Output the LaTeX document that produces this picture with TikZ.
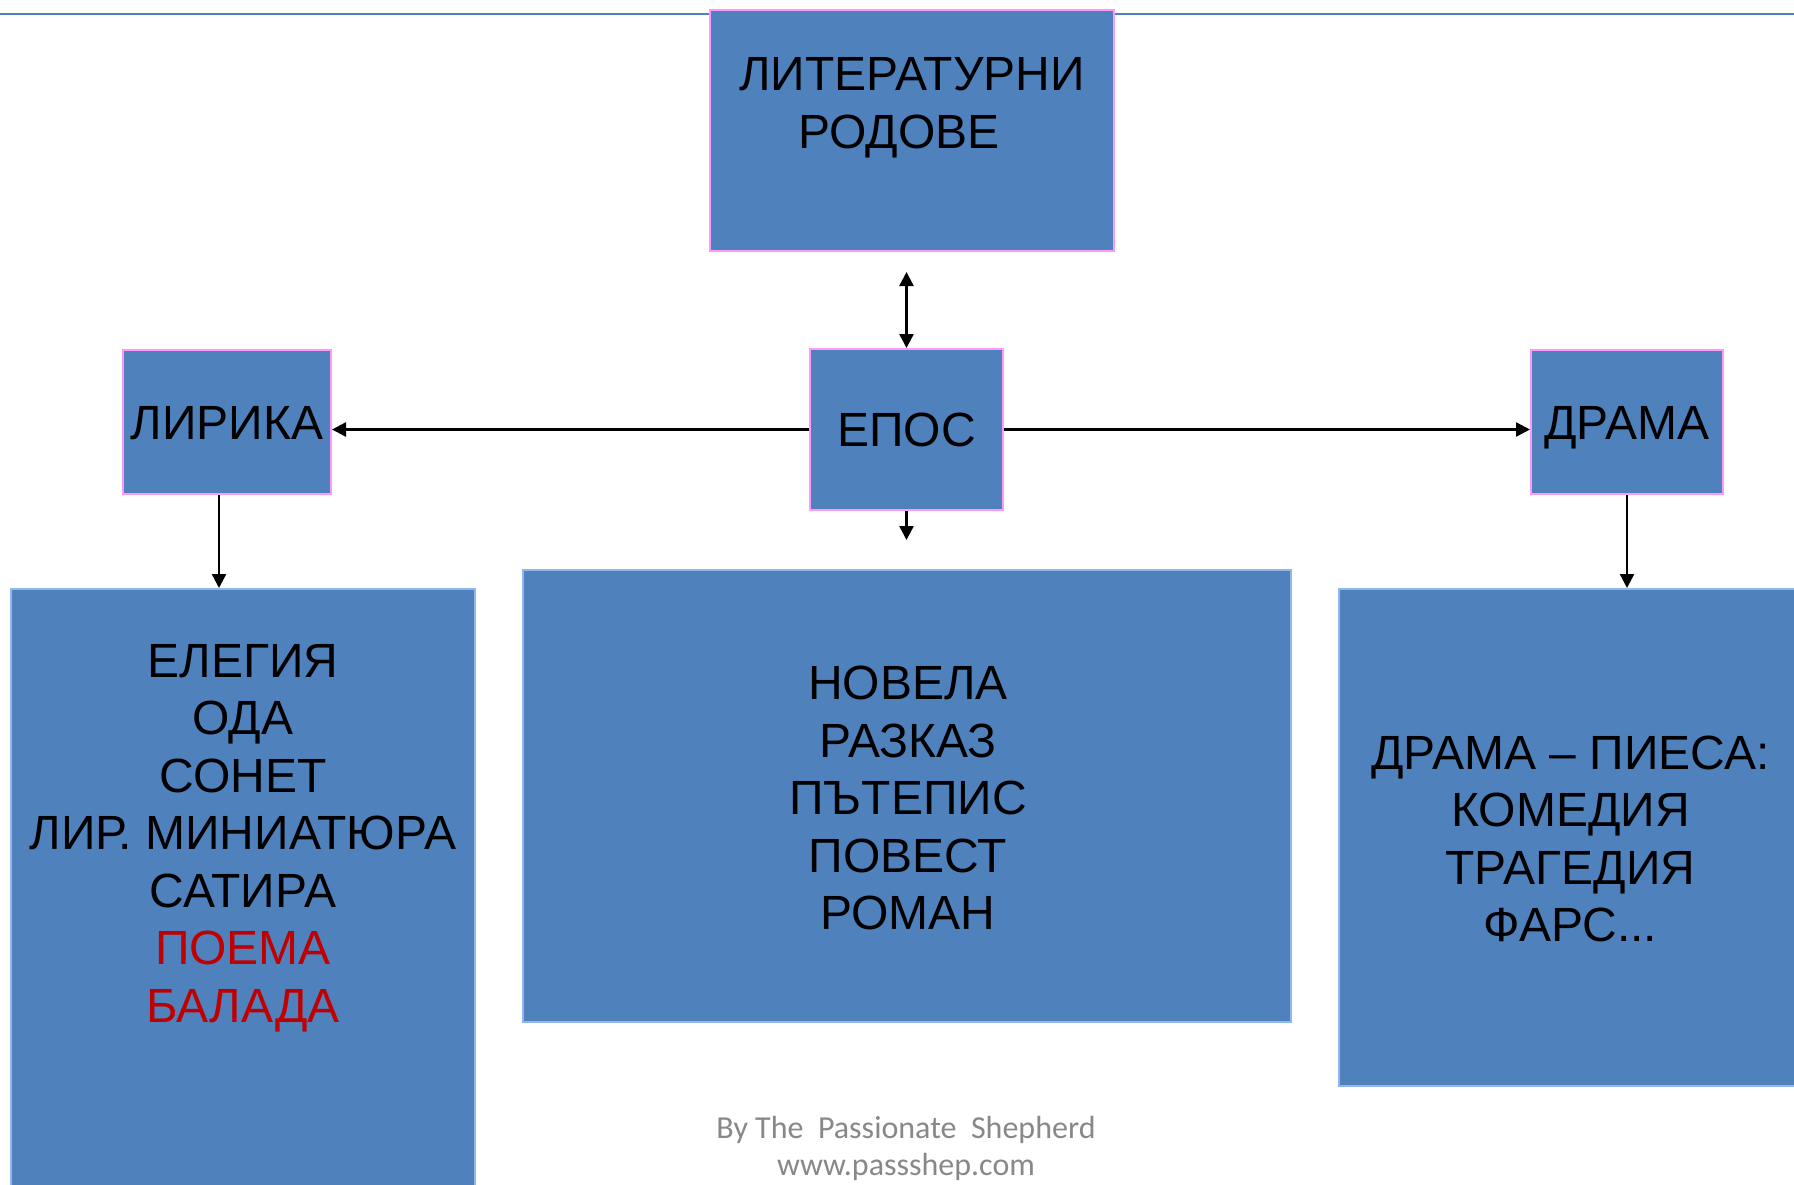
\documentclass[tikz,border=0pt]{standalone}
\usepackage{fontspec}
\setmainfont{Liberation Sans}
\newfontfamily\footfont{Carlito}
\usetikzlibrary{arrows.meta}
\definecolor{boxfill}{HTML}{4F81BD}
\definecolor{pinkedge}{HTML}{FF99FF}
\definecolor{blueedge}{HTML}{8EB8EE}
\definecolor{redtext}{HTML}{C00000}
\definecolor{footgray}{HTML}{888888}
\definecolor{topline}{HTML}{4F81BD}
\tikzset{
  bigfont/.style={font=\fontsize{48}{57.5}\selectfont},
  genrebox/.style={draw=pinkedge, fill=boxfill, line width=2pt, inner sep=0pt, bigfont, text depth=0pt, text height=34.4pt},
  listbox/.style={draw=blueedge, fill=boxfill, line width=2pt, inner sep=0pt},
  listtext/.style={bigfont, align=center, inner sep=0pt, anchor=north},
  conn/.style={line width=2.4pt, -{Triangle[length=14pt,width=14pt]}},
  conn2/.style={line width=2.4pt, {Triangle[length=14pt,width=14pt]}-{Triangle[length=14pt,width=14pt]}},
}
\begin{document}
\begin{tikzpicture}[x=1pt,y=-1pt]
\useasboundingbox (0,0) rectangle (1794,1184);
\clip (0,0) rectangle (1794,1184);
\fill[white] (0,0) rectangle (1794,1184);
\coordinate (lineL) at (0,13.7);
\coordinate (lineR) at (1794,13.7);
\draw[topline, line width=2pt] (lineL) -- (lineR);
% top box
\node[genrebox, minimum width=404pt, minimum height=241pt] (top) at (912,130.5) {};
\node[listtext] (toptext) at (912,57.5) {ЛИТЕРАТУРНИ\\РОДОВЕ\makebox[26pt]{}};
% second row
\node[genrebox, minimum width=193pt, minimum height=161pt] (epos) at (906.5,429.5) {ЕПОС};
\node[genrebox, minimum width=208pt, minimum height=144pt] (lirika) at (227,422) {ЛИРИКА};
\node[genrebox, minimum width=192pt, minimum height=144pt] (drama) at (1627,422) {ДРАМА};
% bottom boxes
\node[listbox, minimum width=464pt, minimum height=640pt] (lbox) at (243,909) {};
\node[listbox, minimum width=768pt, minimum height=452pt] (mbox) at (907,796) {};
\node[listbox, minimum width=461pt, minimum height=497pt] (rbox) at (1569.5,837.5) {};
\node[listtext] (ltext) at (243,644) {ЕЛЕГИЯ\\ОДА\\СОНЕТ\\ЛИР. МИНИАТЮРА\\САТИРА\\\textcolor{redtext}{ПОЕМА}\\\textcolor{redtext}{БАЛАДА}};
\node[listtext] (mtext) at (908,666) {НОВЕЛА\\РАЗКАЗ\\ПЪТЕПИС\\ПОВЕСТ\\РОМАН};
\node[listtext] (rtext) at (1570.5,735.6) {ДРАМА – ПИЕСА:\\КОМЕДИЯ\\ТРАГЕДИЯ\\ФАРС...};
% connectors
\draw[conn2, shorten >=20pt] (epos.north) -- (epos.north |- top.south);
\draw[conn, shorten >=29pt] (epos.south) -- (epos.south |- mbox.north);
\draw[conn] (epos.west) -- (epos.west -| lirika.east);
\draw[conn] (epos.east) -- (epos.east -| drama.west);
\draw[conn] ([xshift=-8pt]lirika.south) -- ([xshift=-8pt]lirika.south |- lbox.north);
\draw[conn] (drama.south) -- (drama.south |- rbox.north);
% footer
\node[font=\footfont\fontsize{32}{37}\selectfont, text=footgray, align=center, inner sep=0pt, anchor=base] (foot) at (906,1175) {By The\ \ Passionate\ \ Shepherd\\www.passshep.com};
\end{tikzpicture}
\end{document}
